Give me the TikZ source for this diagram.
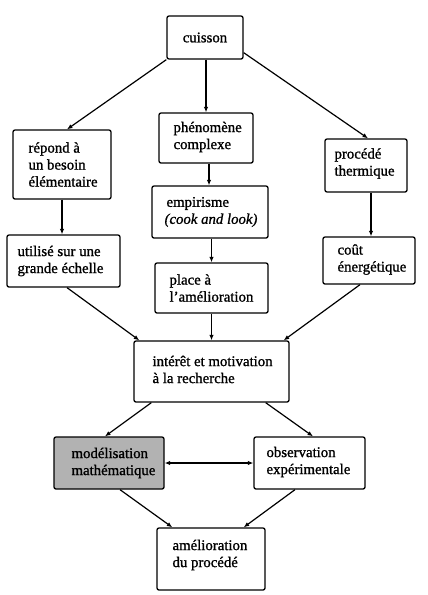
\documentclass[tikz,border=0pt]{standalone}
\usepackage{fontspec}
\setmainfont{Liberation Serif}[FakeBold=1.2,ItalicFeatures={FakeBold=1.0}]
\usetikzlibrary{arrows.meta}
\tikzset{
  box/.style={draw, line width=1.3pt, rounded corners=2pt, inner sep=0pt},
  shaded/.style={box, fill=black!30},
  txt/.style={anchor=west, align=left, inner sep=0pt, font=\fontsize{14.8pt}{17pt}\selectfont},
  conn/.style={line width=1.2pt, -{Latex[length=5.5pt,width=4.5pt]}},
  biconn/.style={line width=1.2pt, {Latex[length=5.5pt,width=4.5pt]}-{Latex[length=5.5pt,width=4.5pt]}}
}
\begin{document}
\begin{tikzpicture}[x=1pt,y=-1pt]
\useasboundingbox (0,0) rectangle (428,595);
% boxes
\node[box, minimum width=76pt, minimum height=43pt] (cuisson) at (205,37.5) {};
\node[box, minimum width=98pt, minimum height=69pt] (repond) at (62,164.5) {};
\node[box, minimum width=94pt, minimum height=50pt] (phen) at (206,138) {};
\node[box, minimum width=82pt, minimum height=53pt] (proc) at (366,165.5) {};
\node[box, minimum width=116pt, minimum height=52pt] (emp) at (210,212) {};
\node[box, minimum width=113pt, minimum height=52pt] (util) at (63.5,261) {};
\node[box, minimum width=113pt, minimum height=50pt] (place) at (211.5,288) {};
\node[box, minimum width=92pt, minimum height=47pt] (cout) at (369,260.5) {};
\node[box, minimum width=155pt, minimum height=61pt] (inter) at (211.5,371.5) {};
\node[shaded, minimum width=110pt, minimum height=52pt] (model) at (109,463) {};
\node[box, minimum width=111pt, minimum height=52pt] (obs) at (309.5,463) {};
\node[box, minimum width=108pt, minimum height=62pt] (amel) at (211,559) {};
% texts
\node[txt, anchor=center] (cuissonT) at (cuisson.center) {cuisson};
\node[txt] (repondT) at ([xshift=16pt]repond.west) {répond à\\un besoin\\élémentaire};
\node[txt] (phenT) at ([xshift=15pt,yshift=1pt]phen.west) {phénomène\\complexe};
\node[txt] (procT) at ([xshift=10pt,yshift=2pt]proc.west) {procédé\\thermique};
\node[txt] (empT) at ([xshift=13pt]emp.west) {\hspace*{2pt}empirisme\\\textit{(cook and look)}};
\node[txt] (utilT) at ([xshift=11pt]util.west) {utilisé sur une\\grande échelle};
\node[txt] (placeT) at ([xshift=15pt]place.west) {place à\\l’amélioration};
\node[txt] (coutT) at ([xshift=15pt,yshift=1pt]cout.west) {coût\\énergétique};
\node[txt] (interT) at ([xshift=19pt,yshift=2pt]inter.west) {intérêt et motivation\\à la recherche};
\node[txt] (modelT) at ([xshift=18pt]model.west) {modélisation\\mathématique};
\node[txt] (obsT) at ([xshift=13pt,yshift=1pt]obs.west) {observation\\expérimentale};
\node[txt] (amelT) at ([xshift=16pt,yshift=4pt]amel.west) {amélioration\\du procédé};
% connectors
\draw[conn] (cuisson.south west) -- ([xshift=5pt]repond.north);
\draw[conn] (phen.north |- cuisson.south) -- (phen.north);
\draw[conn] ([yshift=7pt]cuisson.south east) -- ([xshift=2pt]proc.north);
\draw[conn] (repond.south) -- (repond.south |- util.north);
\draw[conn] ([xshift=3pt]phen.south) -- ([xshift=3pt]phen.south |- emp.north);
\draw[conn] ([xshift=2pt]cout.north |- proc.south) -- ([xshift=2pt]cout.north);
\draw[conn] (place.north |- emp.south) -- (place.north);
\draw[conn] ([xshift=3.5pt]util.south) -- ([xshift=6pt]inter.north west);
\draw[conn] (place.south) -- (place.south |- inter.north);
\draw[conn] ([xshift=-9pt]cout.south) -- ([xshift=-6pt]inter.north east);
\draw[conn] ([xshift=18pt]inter.south west) -- ([xshift=-4pt]model.north);
\draw[conn] ([xshift=-24pt]inter.south east) -- ([xshift=3.5pt]obs.north);
\draw[biconn] (model.east) -- (obs.west);
\draw[conn] ([xshift=11pt]model.south) -- ([xshift=16pt]amel.north west);
\draw[conn] ([xshift=-14.5pt]obs.south) -- ([xshift=-22pt]amel.north east);
\end{tikzpicture}
\end{document}
